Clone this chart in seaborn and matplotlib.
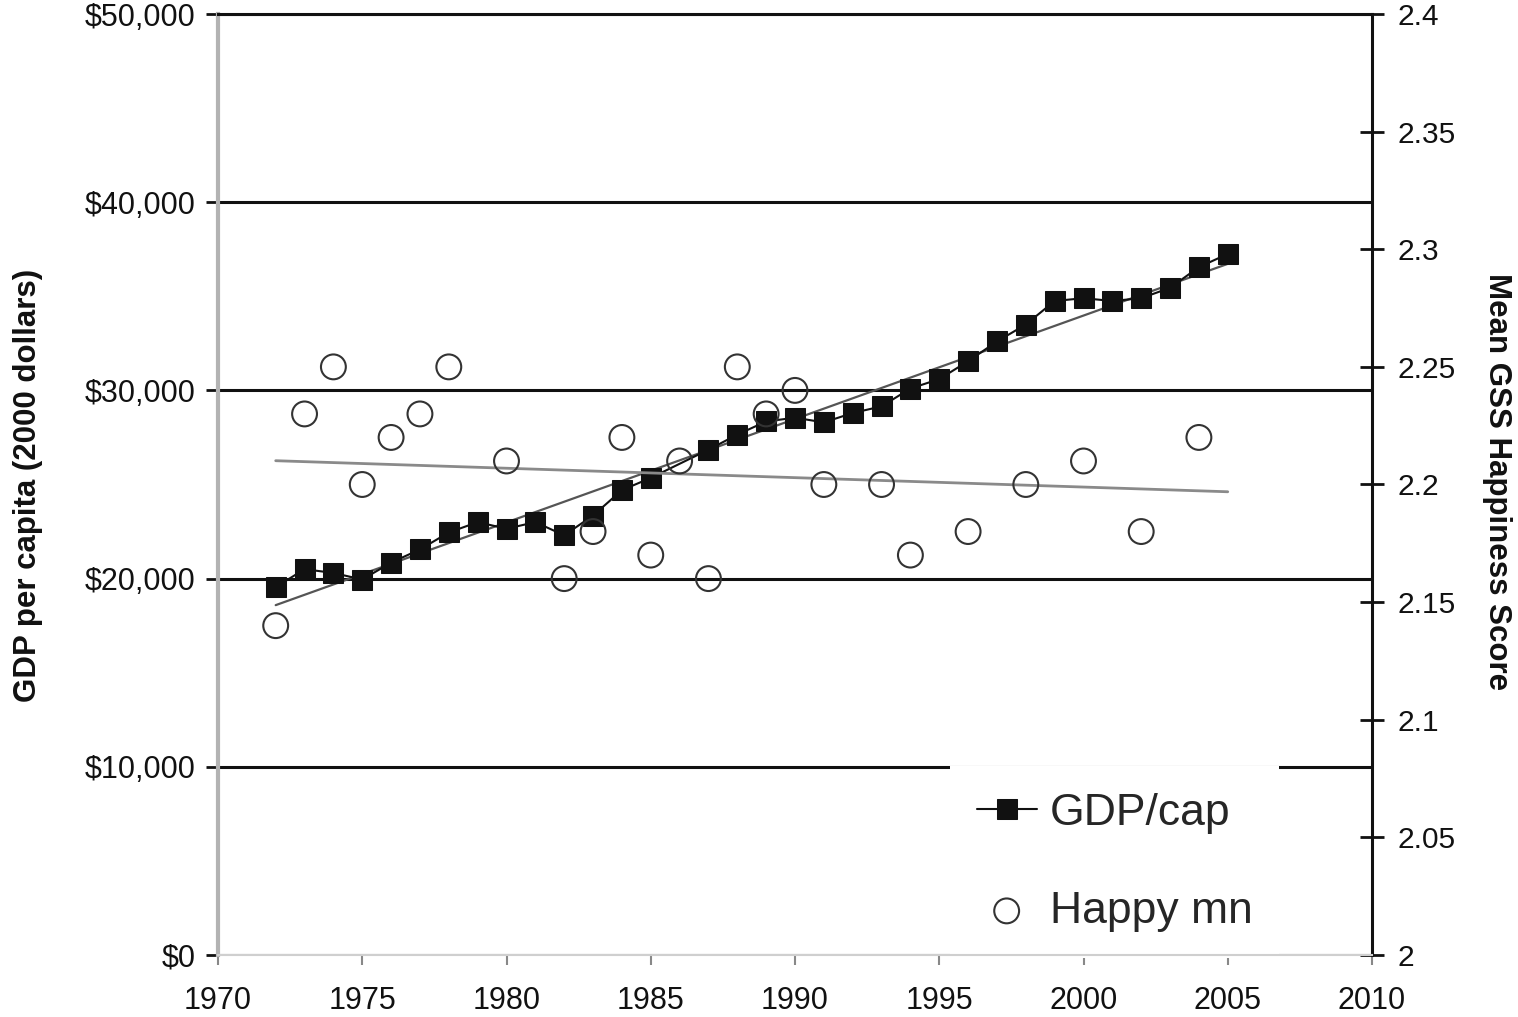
import numpy as np
import pandas as pd
import matplotlib
matplotlib.use("Agg")
import matplotlib.pyplot as plt
import seaborn as sns
from matplotlib.ticker import FuncFormatter, MultipleLocator

# ---------------- data ----------------
gdp_years = [1972, 1973, 1974, 1975, 1976, 1977, 1978, 1979, 1980, 1981, 1982,
             1983, 1984, 1985, 1987, 1988, 1989, 1990, 1991, 1992, 1993, 1994,
             1995, 1996, 1997, 1998, 1999, 2000, 2001, 2002, 2003, 2004, 2005]
gdp_values = [19550, 20500, 20300, 19950, 20850, 21550, 22450, 23000, 22650, 23000,
              22300, 23350, 24700, 25350, 26850, 27650, 28350, 28550, 28300, 28800,
              29150, 30100, 30600, 31550, 32600, 33500, 34750, 34900, 34750, 34900,
              35450, 36550, 37250]

happy_years = [1972, 1973, 1974, 1975, 1976, 1977, 1978, 1980, 1982, 1983, 1984,
               1985, 1986, 1987, 1988, 1989, 1990, 1991, 1993, 1994, 1996, 1998,
               2000, 2002, 2004]
happy_values = [2.14, 2.23, 2.25, 2.20, 2.22, 2.23, 2.25, 2.21, 2.16, 2.18, 2.22,
                2.17, 2.21, 2.16, 2.25, 2.23, 2.24, 2.20, 2.20, 2.17, 2.18, 2.20,
                2.21, 2.18, 2.22]

x_ticks = [1970, 1975, 1980, 1985, 1990, 1995, 2000, 2005, 2010]
gdp_label = "GDP/cap"
happy_label = "Happy mn"
left_title = "GDP per capita (2000 dollars)"
right_title = "Mean GSS Happiness Score"

gdp_df = pd.DataFrame({"year": gdp_years, "gdp": gdp_values})
happy_df = pd.DataFrame({"year": happy_years, "happy": happy_values})

# ---------------- style ----------------
sns.set_theme(style="white")
plt.rcParams["font.family"] = ["Liberation Sans", "DejaVu Sans"]

fig = plt.figure(figsize=(15.18, 10.17), dpi=100)
ax1 = fig.add_axes([218 / 1518, 1 - 955 / 1017, (1372 - 218) / 1518, (955 - 14) / 1017])
ax2 = ax1.twinx()

# GDP series
sns.lineplot(data=gdp_df, x="year", y="gdp", ax=ax1, color="#111111", lw=1.5,
             marker="s", markersize=14, markeredgecolor="#111111",
             markerfacecolor="#111111", label=gdp_label, legend=False)
gdp_line = ax1.lines[-1]

# GDP linear trend
xr = np.array([min(gdp_years), max(gdp_years)], dtype=float)
c1 = np.polyfit(gdp_years, gdp_values, 1)
ax1.plot(xr, np.polyval(c1, xr), color="#555555", lw=1.6, zorder=1.9)

# Happiness series
sns.scatterplot(data=happy_df, x="year", y="happy", ax=ax2, marker="o", s=320,
                color="#333333", label=happy_label, legend=False, zorder=4)
happy_coll = ax2.collections[-1]
happy_coll.set_facecolor("none")
happy_coll.set_edgecolor("#333333")
happy_coll.set_linewidth(1.5)

c2 = np.polyfit(happy_years, happy_values, 1)
ax2.plot(xr, np.polyval(c2, xr), color="#8a8a8a", lw=2.0, zorder=2)

# ---------------- axes ----------------
ax1.set_xlim(1970, 2010)
ax1.set_ylim(0, 50000)
ax2.set_ylim(2.0, 2.4)
ax1.set_xticks(x_ticks)
ax1.yaxis.set_major_locator(MultipleLocator(10000))
ax2.yaxis.set_major_locator(MultipleLocator(0.05))
ax1.yaxis.set_major_formatter(FuncFormatter(lambda v, p: f"${v:,.0f}"))
ax2.yaxis.set_major_formatter(FuncFormatter(lambda v, p: f"{v:g}"))

ax1.set_xlabel("")
ax1.set_ylabel("")
ax2.set_ylabel("")

ax1.yaxis.grid(True, color="#111111", lw=2.2)
ax1.xaxis.grid(False)
ax2.grid(False)
ax1.set_axisbelow(True)
glines = ax1.get_ygridlines()
if len(glines) > 0:
    glines[0].set_color("#777777")

for s in ["right", "bottom"]:
    ax1.spines[s].set_visible(False)
ax1.spines["top"].set_visible(True)
ax1.spines["top"].set_color("#111111")
ax1.spines["top"].set_linewidth(2.2)
ax1.spines["left"].set_color("#b3b3b3")
ax1.spines["left"].set_linewidth(3.0)

for s in ["left", "top"]:
    ax2.spines[s].set_visible(False)
ax2.spines["right"].set_color("#111111")
ax2.spines["right"].set_linewidth(2.2)
ax2.spines["bottom"].set_visible(True)
ax2.spines["bottom"].set_color("#cfcfcf")
ax2.spines["bottom"].set_linewidth(1.5)
ax2.spines["bottom"].set_zorder(10)

ax1.tick_params(axis="y", direction="out", length=9, width=2, color="#111111",
                labelsize=22, pad=7, left=True, labelcolor="#111111")
ax1.tick_params(axis="x", direction="out", length=7, width=1.5, color="#888888",
                labelsize=22, pad=15, bottom=True, labelcolor="#111111")
ax2.tick_params(axis="y", direction="inout", length=17, width=2, color="#111111",
                labelsize=21.5, pad=10, right=True, labelcolor="#111111")

fig.text(28 / 1518, 1 - 485 / 1017, left_title, rotation=90, ha="center",
         va="center", fontsize=22.5, fontweight="bold", color="#111111")
fig.text(1497 / 1518, 1 - 482 / 1017, right_title, rotation=270, ha="center",
         va="center", fontsize=22.5, fontweight="bold", color="#111111")

leg = ax2.legend(handles=[gdp_line, happy_coll], labels=[gdp_label, happy_label],
                 loc="upper left", bbox_to_anchor=((950 - 218) / 1154, (955 - 766) / 941),
                 borderaxespad=0, fontsize=32, frameon=True, fancybox=False,
                 borderpad=0.6, handlelength=1.35, handletextpad=0.3,
                 labelspacing=1.28, scatterpoints=1)
leg.get_frame().set_facecolor("white")
leg.get_frame().set_edgecolor("none")
leg.get_frame().set_alpha(1.0)
leg.set_zorder(5)

fig.savefig("out.png", dpi=100)
